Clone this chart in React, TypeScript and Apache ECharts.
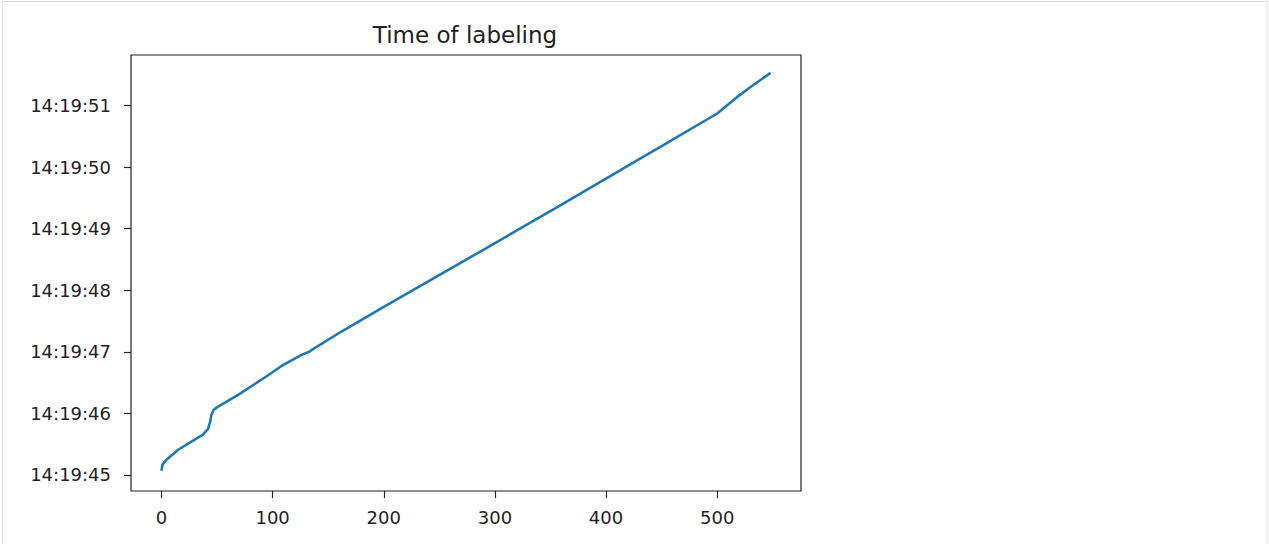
import React, { useEffect, useRef } from "react";
import * as echarts from "echarts";

const TITLE = "Time of labeling";
// sample index of each read point
const indices = [0, 1, 4, 15, 27, 37, 42, 44, 45, 47, 51, 69, 96, 108, 126, 133, 136, 162, 200, 288, 360, 431, 450, 500, 518, 530, 548];
// seconds within minute 14:19
const seconds = [45.07, 45.17, 45.24, 45.41, 45.54, 45.65, 45.75, 45.88, 45.98, 46.06, 46.11, 46.3, 46.62, 46.77, 46.95, 47.0, 47.04, 47.33, 47.73, 48.64, 49.39, 50.14, 50.34, 50.87, 51.14, 51.3, 51.53];
const xTicks = [0, 100, 200, 300, 400, 500];
const yTicks = [45, 46, 47, 48, 49, 50, 51];
const timePrefix = "14:19:";

export default function App() {
  const ref = useRef<HTMLDivElement>(null);
  useEffect(() => {
    if (!ref.current) return;
    const chart = echarts.init(ref.current, null, { renderer: "svg" });
    const font = "'DejaVu Sans', sans-serif";
    const axisColor = "#222";
    chart.setOption({
      animation: false,
      backgroundColor: "#fff",
      grid: {
        left: 131,
        right: 468,
        top: 55,
        bottom: 53,
        show: true,
        borderColor: axisColor,
        borderWidth: 1.2,
        backgroundColor: "transparent",
      },
      graphic: [
        {
          type: "text",
          x: 465,
          y: 35,
          style: {
            text: TITLE,
            fontFamily: font,
            fontSize: 23,
            fill: "#222",
            align: "center",
            verticalAlign: "middle",
          },
        },
        { type: "line", shape: { x1: 2.5, y1: 1.5, x2: 1267, y2: 1.5 }, style: { stroke: "#e0e0e0", lineWidth: 1 } },
        { type: "line", shape: { x1: 2.5, y1: 1.5, x2: 2.5, y2: 544 }, style: { stroke: "#e0e0e0", lineWidth: 1 } },
        { type: "line", shape: { x1: 1267, y1: 1.5, x2: 1267, y2: 544 }, style: { stroke: "#e0e0e0", lineWidth: 1 } },
      ],
      xAxis: {
        type: "value",
        min: -27.4,
        max: 575.4,
        splitLine: { show: false },
        axisLine: { show: false, onZero: false },
        axisTick: {
          show: true,
          length: 7,
          customValues: xTicks,
          lineStyle: { color: axisColor, width: 1.2 },
        },
        axisLabel: {
          customValues: xTicks,
          margin: 17,
          fontFamily: font,
          fontSize: 18,
          color: "#222",
          showMinLabel: true,
          showMaxLabel: true,
        },
      },
      yAxis: {
        type: "value",
        min: 44.74,
        max: 51.82,
        splitLine: { show: false },
        axisLine: { show: false, onZero: false },
        axisTick: {
          show: true,
          length: 7,
          customValues: yTicks,
          lineStyle: { color: axisColor, width: 1.2 },
        },
        axisLabel: {
          customValues: yTicks,
          margin: 20,
          fontFamily: font,
          fontSize: 18,
          color: "#222",
          formatter: (v: number) => timePrefix + String(Math.round(v)),
        },
      },
      series: [
        {
          type: "line",
          data: indices.map((x, i) => [x, seconds[i]]),
          showSymbol: false,
          lineStyle: { color: "#1f77b4", width: 2.6 },
          itemStyle: { color: "#1f77b4" },
        },
      ],
    });
    return () => chart.dispose();
  }, []);
  return (
    <div
      ref={ref}
      style={{ position: "fixed", left: 0, top: 0, width: 1269, height: 544, background: "#fff" }}
    />
  );
}
